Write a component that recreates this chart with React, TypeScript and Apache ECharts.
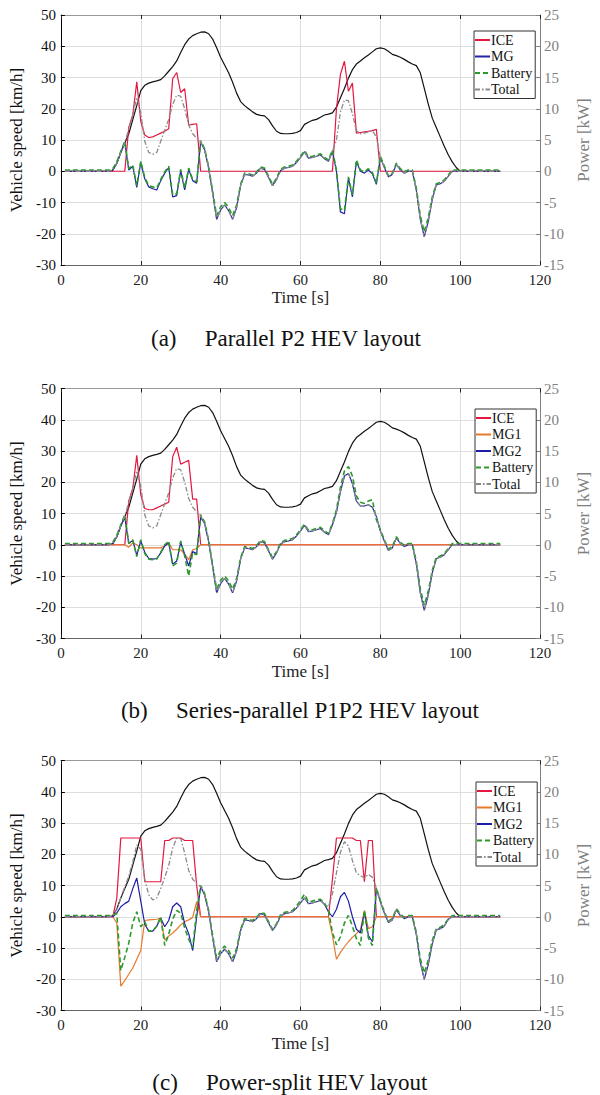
import React, { useEffect, useRef } from "react";
import * as echarts from "echarts";

const FONT = "'Liberation Serif', 'Times New Roman', serif";

// time in seconds, 1..110
const TIME_START = 1;
const TIME_COUNT = 110;

// Vehicle speed [km/h]
const speed = [
  0, 0, 0, 0, 0, 0, 0, 0, 0, 0,
  0, 0, 0.3, 2.5, 6, 9, 12, 16.5, 21, 25.8,
  27.5, 28.2, 28.6, 28.9, 29.3, 30.5, 32, 33.5, 35.3, 38,
  40.5, 42.3, 43.4, 44, 44.5, 44.6, 44, 42.3, 39.5, 36.5,
  34, 31.5, 28.5, 25, 22.3, 21, 20, 19, 18.2, 17.9,
  17.7, 16.5, 14.5, 12.8, 12.1, 12, 12, 12.1, 12.4, 13,
  15, 15.7, 16.3, 16.6, 17.3, 18, 18.3, 18.7, 20.5, 23.5,
  26.5, 29.8, 32.5, 34.3, 35.3, 36.3, 37.2, 38.2, 39.2, 39.5,
  39.2, 38.4, 37.4, 37, 36.5, 35.8, 35, 34.3, 33.8, 31.5,
  26.5, 21.5, 17, 14, 11, 8, 5.3, 3, 1.2, 0,
  0, 0, 0, 0, 0, 0, 0, 0, 0, 0,
];

// ---------- (a) Parallel P2 [kW] ----------
const iceA = [
  0, 0, 0, 0, 0, 0, 0, 0, 0, 0,
  0, 0, 0, 0, 0, 0, 7, 9, 14.3, 8,
  5.8, 5.4, 5.5, 5.8, 6.1, 6.4, 6.8, 14.8, 15.8, 12.6,
  13.2, 7.4, 7.5, 7.6, 0, 0, 0, 0, 0, 0,
  0, 0, 0, 0, 0, 0, 0, 0, 0, 0,
  0, 0, 0, 0, 0, 0, 0, 0, 0, 0,
  0, 0, 0, 0, 0, 0, 0, 0, 10, 15.5,
  17.6, 12.8, 14.1, 6.1, 6.2, 6.3, 6.4, 6.5, 6.7, 0,
  0, 0, 0, 0, 0, 0, 0, 0, 0, 0,
  0, 0, 0, 0, 0, 0, 0, 0, 0, 0,
  0, 0, 0, 0, 0, 0, 0, 0, 0, 0,
];
const mgA = [
  0, 0, 0, 0, 0, 0, 0, 0, 0, 0,
  0, 0, 0.2, 1.3, 3, 4.6, 0.2, 0.8, -2.6, 1.4,
  -1.2, -2.5, -2.8, -3, -1.5, -0.3, 0.6, -4.1, -3.9, 0.1,
  -3, 0.3, -1.5, -1.9, 4.7, 3.4, 0.5, -3.5, -7.7, -6.2,
  -5.4, -6.3, -7.7, -5.8, -2.3, -0.5, -0.6, -0.8, -0.3, 0.5,
  0.3, -1, -2.3, -1.3, 0.1, 0.5, 0.6, 0.8, 1.4, 2.2,
  3.1, 2.1, 2.2, 2.4, 2.6, 2, 1.6, 3.2, 0, -6.5,
  -6.8, -1.1, -4.1, 1.6, 0, -0.3, 0.2, -0.4, -2.1, 2.2,
  0.6, -0.9, -0.5, 1.1, 0.2, -0.3, 0, 0, -3, -7.7,
  -10.5, -8, -4.5, -2.2, -2, -1.6, -0.8, 0, 0, 0,
  0, 0, 0, 0, 0, 0, 0, 0, 0, 0,
];
const batA = [
  0.2, 0.2, 0.2, 0.2, 0.2, 0.2, 0.2, 0.2, 0.2, 0.2,
  0.2, 0.2, 0.4, 1.5, 3.2, 4.8, 0.4, 1, -2.3, 1.6,
  -1, -2.3, -2.5, -2.7, -1.3, -0.1, 0.8, -3.8, -3.6, 0.3,
  -2.7, 0.5, -1.3, -1.7, 4.9, 3.6, 0.7, -3.2, -7.1, -5.7,
  -5, -5.8, -7.1, -5.4, -2.1, -0.3, -0.4, -0.6, -0.1, 0.7,
  0.5, -0.8, -2.1, -1.1, 0.3, 0.7, 0.8, 1, 1.6, 2.4,
  3.3, 2.3, 2.4, 2.6, 2.8, 2.2, 1.8, 3.4, 0.2, -6,
  -6.3, -0.9, -3.8, 1.8, 0.2, -0.1, 0.4, -0.2, -1.9, 2.4,
  0.8, -0.7, -0.3, 1.3, 0.4, -0.1, 0.2, 0.2, -2.7, -7.1,
  -9.7, -7.4, -4.1, -2, -1.8, -1.4, -0.6, 0.2, 0.2, 0.2,
  0.2, 0.2, 0.2, 0.2, 0.2, 0.2, 0.2, 0.2, 0.2, 0.2,
];
const totA = [
  0, 0, 0, 0, 0, 0, 0, 0, 0, 0,
  0, 0, 0.2, 1.3, 3, 4.6, 6.8, 9, 11.8, 9.3,
  4.8, 3, 2.7, 3, 4.8, 6.6, 8.3, 10.7, 12.2, 12,
  10, 7.4, 6, 5.3, 4.7, 3.4, 0.5, -3.5, -7.7, -6.2,
  -5.4, -6.3, -7.7, -5.8, -2.3, -0.5, -0.6, -0.8, -0.3, 0.5,
  0.3, -1, -2.3, -1.3, 0.1, 0.5, 0.6, 0.8, 1.4, 2.2,
  3.1, 2.1, 2.2, 2.4, 2.6, 2, 1.6, 3.2, 5, 9.5,
  11.4, 11.3, 9.2, 6.5, 6, 6.1, 6.3, 6.5, 5.5, 2.2,
  0.6, -0.9, -0.5, 1.1, 0.2, -0.3, 0, 0, -3, -7.7,
  -10.5, -8, -4.5, -2.2, -2, -1.6, -0.8, 0, 0, 0,
  0, 0, 0, 0, 0, 0, 0, 0, 0, 0,
];

// ---------- (b) Series-parallel P1P2 [kW] ----------
const iceB = [
  0, 0, 0, 0, 0, 0, 0, 0, 0, 0,
  0, 0, 0, 0, 0, 0, 7, 9, 14.3, 8,
  5.8, 5.6, 5.6, 5.9, 6.2, 6.5, 6.8, 14.1, 15.6, 12.9,
  13.2, 13.5, 7.3, 7.3, 0, 0, 0, 0, 0, 0,
  0, 0, 0, 0, 0, 0, 0, 0, 0, 0,
  0, 0, 0, 0, 0, 0, 0, 0, 0, 0,
  0, 0, 0, 0, 0, 0, 0, 0, 0, 0,
  0, 0, 0, 0, 0, 0, 0, 0, 0, 0,
  0, 0, 0, 0, 0, 0, 0, 0, 0, 0,
  0, 0, 0, 0, 0, 0, 0, 0, 0, 0,
  0, 0, 0, 0, 0, 0, 0, 0, 0, 0,
];
const mg1B = [
  0, 0, 0, 0, 0, 0, 0, 0, 0, 0,
  0, 0, 0, 0, 0, 0, -0.4, 0.3, 0, -0.5,
  -0.5, -0.5, -0.5, -0.5, -0.5, -0.2, 0.3, -0.8, -0.8, -0.8,
  -1.5, -2.4, -0.8, -0.6, 0, 0, 0, 0, 0, 0,
  0, 0, 0, 0, 0, 0, 0, 0, 0, 0,
  0, 0, 0, 0, 0, 0, 0, 0, 0, 0,
  0, 0, 0, 0, 0, 0, 0, 0, 0, 0,
  0, 0, 0, 0, 0, 0, 0, 0, 0, 0,
  0, 0, 0, 0, 0, 0, 0, 0, 0, 0,
  0, 0, 0, 0, 0, 0, 0, 0, 0, 0,
  0, 0, 0, 0, 0, 0, 0, 0, 0, 0,
];
const mg2B = [
  0, 0, 0, 0, 0, 0, 0, 0, 0, 0,
  0, 0, 0.2, 1.3, 3, 4.4, 0.2, 0.7, -1.7, 0.6,
  -1.2, -2.2, -2.3, -2.2, -1.3, -0.2, 0.3, -3.1, -2.6, 0.4,
  -1.5, -3.4, -1.1, -1.4, 4.4, 3.4, 0.5, -3.5, -7.7, -6.2,
  -5.4, -6.3, -7.7, -5.8, -2.3, -0.5, -0.6, -0.8, -0.3, 0.5,
  0.3, -1, -2.3, -1.3, 0.1, 0.5, 0.6, 0.8, 1.4, 2.2,
  3.1, 2.1, 2.2, 2.4, 2.6, 2, 1.6, 3.2, 5.2, 8.5,
  11, 11.4, 9.8, 7, 6.2, 6.2, 6.4, 6, 4.5, 2.2,
  0.6, -0.9, -0.5, 1.1, 0.2, -0.3, 0, 0, -3, -7.7,
  -10.5, -8, -4.5, -2.2, -2, -1.6, -0.8, 0, 0, 0,
  0, 0, 0, 0, 0, 0, 0, 0, 0, 0,
];
const batB = [
  0.2, 0.2, 0.2, 0.2, 0.2, 0.2, 0.2, 0.2, 0.2, 0.2,
  0.2, 0.2, 0.4, 1.5, 3.2, 4.8, 0.2, 0.8, -1.9, 0.8,
  -1.4, -2.3, -2.4, -2.3, -1.2, 0, 0.6, -3.4, -2.9, 0.6,
  -1.8, -5, -1.3, -1.6, 4.8, 3.6, 0.7, -3.2, -7.1, -5.7,
  -5, -5.8, -7.1, -5.4, -2.1, -0.3, -0.4, -0.6, -0.1, 0.7,
  0.5, -0.8, -2.1, -1.1, 0.3, 0.7, 0.8, 1, 1.6, 2.4,
  3.3, 2.3, 2.4, 2.6, 2.8, 2.2, 1.8, 3.4, 5.6, 9.2,
  11.8, 12.5, 11, 7.8, 6.8, 6.6, 7, 7.2, 4, 2.4,
  0.8, -0.7, -0.3, 1.3, 0.4, -0.1, 0.2, 0.2, -2.7, -7.1,
  -9.7, -7.4, -4.1, -2, -1.8, -1.4, -0.6, 0.2, 0.2, 0.2,
  0.2, 0.2, 0.2, 0.2, 0.2, 0.2, 0.2, 0.2, 0.2, 0.2,
];
const totB = [
  0, 0, 0, 0, 0, 0, 0, 0, 0, 0,
  0, 0, 0.2, 1.3, 3, 4.6, 6.8, 9, 11.8, 9.3,
  4.8, 3, 2.7, 3, 4.8, 6.6, 8.3, 10.7, 12.2, 12,
  10, 7.4, 6, 5.3, 4.7, 3.4, 0.5, -3.5, -7.7, -6.2,
  -5.4, -6.3, -7.7, -5.8, -2.3, -0.5, -0.6, -0.8, -0.3, 0.5,
  0.3, -1, -2.3, -1.3, 0.1, 0.5, 0.6, 0.8, 1.4, 2.2,
  3.1, 2.1, 2.2, 2.4, 2.6, 2, 1.6, 3.2, 5.2, 8.5,
  11, 11.4, 9.8, 7, 6.2, 6.2, 6.4, 6, 4.5, 2.2,
  0.6, -0.9, -0.5, 1.1, 0.2, -0.3, 0, 0, -3, -7.7,
  -10.5, -8, -4.5, -2.2, -2, -1.6, -0.8, 0, 0, 0,
  0, 0, 0, 0, 0, 0, 0, 0, 0, 0,
];

// ---------- (c) Power-split [kW] ----------
const iceC = [
  0, 0, 0, 0, 0, 0, 0, 0, 0, 0,
  0, 0, 0, 3, 12.6, 12.6, 12.6, 12.6, 12.6, 12.6,
  5.6, 5.6, 5.6, 5.6, 5.6, 12.2, 12.2, 12.6, 12.6, 12.6,
  12.2, 12.2, 12.2, 5, 0, 0, 0, 0, 0, 0,
  0, 0, 0, 0, 0, 0, 0, 0, 0, 0,
  0, 0, 0, 0, 0, 0, 0, 0, 0, 0,
  0, 0, 0, 0, 0, 0, 0, 6, 12.6, 12.6,
  12.6, 12.6, 12.6, 12.2, 12.2, 5.6, 12.2, 12.2, 0, 0,
  0, 0, 0, 0, 0, 0, 0, 0, 0, 0,
  0, 0, 0, 0, 0, 0, 0, 0, 0, 0,
  0, 0, 0, 0, 0, 0, 0, 0, 0, 0,
];
const mg1C = [
  0, 0, 0, 0, 0, 0, 0, 0, 0, 0,
  0, 0, 0, -1, -11.1, -10.2, -9.2, -8.2, -6.8, -5.4,
  -0.6, -0.5, -0.45, -0.4, -0.2, -3.7, -3.1, -2.6, -2, -1.3,
  -0.8, -0.5, -0.1, 2.4, 0, 0, 0, 0, 0, 0,
  0, 0, 0, 0, 0, 0, 0, 0, 0, 0,
  0, 0, 0, 0, 0, 0, 0, 0, 0, 0,
  0, 0, 0, 0, 0, 0, 0, -3, -6.8, -5.7,
  -4.8, -4, -3.3, -2.7, -2.1, 1, -1.9, -1.6, 0, 0,
  0, 0, 0, 0, 0, 0, 0, 0, 0, 0,
  0, 0, 0, 0, 0, 0, 0, 0, 0, 0,
  0, 0, 0, 0, 0, 0, 0, 0, 0, 0,
];
const mg2C = [
  0, 0, 0, 0, 0, 0, 0, 0, 0, 0,
  0, 0, 0, 0.6, 1.6, 2.1, 2.5, 4.5, 6.2, 2.5,
  -1.2, -2.3, -2.3, -1.5, -0.2, -1.6, -0.6, 1.6, 2.2, 1.6,
  -1.1, -2.7, -5.4, 0, 4.8, 3.5, 0.8, -3.3, -7.2, -5.9,
  -5.2, -5.9, -7.2, -5.5, -2.2, -0.5, -0.6, -0.8, -0.3, 0.5,
  0.3, -1, -2.2, -1.3, 0.1, 0.5, 0.6, 0.8, 1.4, 2.2,
  3, 2.1, 2.2, 2.4, 2.6, 2, 0.8, 0, 1.2, 3.2,
  3.9, 2.5, 0, -2, -2.6, 0.7, -3, -4, 4.5, 2.4,
  0.6, -0.9, -0.5, 1.1, 0.2, -0.3, 0, 0, -2.8, -7.3,
  -10, -7.6, -4.3, -2.1, -1.9, -1.5, -0.4, 0, 0, 0,
  0, 0, 0, 0, 0, 0, 0, 0, 0, 0,
];
const batC = [
  0.2, 0.2, 0.2, 0.2, 0.2, 0.2, 0.2, 0.2, 0.2, 0.2,
  0.2, 0.2, 0.3, 0.5, -8.6, -6.5, -4.2, -1, 0.8, -1.6,
  -0.8, -2.3, -2.3, -1.5, 0, -4.6, -2.8, -0.4, 1, 0.6,
  -1.8, -3.6, -5, 1, 5, 3.7, 1, -3, -6.6, -5.4,
  -4.7, -5.4, -6.6, -5.1, -2, -0.3, -0.4, -0.6, -0.1, 0.7,
  0.5, -0.8, -2, -1.1, 0.3, 0.7, 0.8, 1, 1.7, 2.6,
  3.6, 2.4, 2.5, 2.7, 2.8, 2.2, 1, -2.5, -4.5, -3.2,
  -1, 0.2, -1.5, -3.5, -4.6, 1, -3.4, -4.6, 4.6, 2.6,
  0.8, -0.7, -0.3, 1.3, 0.4, -0.1, 0.2, 0.2, -2.5, -6.7,
  -9, -6.9, -3.8, -1.9, -1.7, -1.2, -0.4, 0.2, 0.2, 0.2,
  0.2, 0.2, 0.2, 0.2, 0.2, 0.2, 0.2, 0.2, 0.2, 0.2,
];
const totC = [
  0, 0, 0, 0, 0, 0, 0, 0, 0, 0,
  0, 0, 0.2, 1.2, 3, 4.8, 6.5, 8.8, 11.5, 10.8,
  6, 3.5, 2.7, 3, 4.5, 6.3, 8.2, 11, 12.6, 12.5,
  10.2, 7.4, 6, 5.3, 4.8, 3.5, 0.8, -3.3, -7.2, -5.9,
  -5.2, -5.9, -7.2, -5.5, -2.2, -0.5, -0.6, -0.8, -0.3, 0.5,
  0.3, -1, -2.2, -1.3, 0.1, 0.5, 0.6, 0.8, 1.4, 2.2,
  3, 2.1, 2.2, 2.4, 2.6, 2, 1.6, 3.7, 7, 10.3,
  12, 11.3, 9, 7, 6.6, 6.2, 6.8, 6.3, 4.6, 2.4,
  0.6, -0.9, -0.5, 1.1, 0.2, -0.3, 0, 0, -2.8, -7.3,
  -10, -7.6, -4.3, -2.1, -1.9, -1.5, -0.4, 0, 0, 0,
  0, 0, 0, 0, 0, 0, 0, 0, 0, 0,
];

const xTicks = { min: 0, max: 120, interval: 20 };
const speedTicks = { min: -30, max: 50, interval: 10 };
const powerTicks = { min: -15, max: 25, interval: 5 };

const captions = [
  { label: "(a)", title: "Parallel P2 HEV layout" },
  { label: "(b)", title: "Series-parallel P1P2 HEV layout" },
  { label: "(c)", title: "Power-split HEV layout" },
];

const legendNames = [
  ["ICE", "MG", "Battery", "Total"],
  ["ICE", "MG1", "MG2", "Battery", "Total"],
  ["ICE", "MG1", "MG2", "Battery", "Total"],
];

const COLORS: Record<string, string> = {
  ICE: "#e3173f",
  MG: "#2323a6",
  MG1: "#e8792b",
  MG2: "#1c1ca8",
  Battery: "#2b9a2b",
  Total: "#8a8a8a",
  Speed: "#111111",
};

const PANEL_TOPS = [15, 388.5, 760.5];
const CAPTION_POS = [
  { x: 286, y: 338 },
  { x: 300, y: 710 },
  { x: 290, y: 1082 },
];
const LEGEND_POS = [
  { left: 474, top: 31 },
  { left: 475, top: 409 },
  { left: 476, top: 782 },
];

const times = Array.from({ length: TIME_COUNT }, (_, i) => TIME_START + i);
const pts = (arr: number[]) => arr.map((v, i) => [times[i], v]);

function lineSeries(name: string, data: number[], panel: number, axis: "speed" | "power") {
  const isBat = name === "Battery";
  const isTot = name === "Total";
  return {
    type: "line",
    name,
    xAxisIndex: panel * 2,
    yAxisIndex: panel * 2 + (axis === "speed" ? 0 : 1),
    data: pts(data),
    symbol: "none",
    showSymbol: false,
    silent: true,
    color: COLORS[name] || COLORS.Speed,
    lineStyle: {
      color: COLORS[name] || COLORS.Speed,
      width: isBat ? 1.6 : isTot ? 1.3 : 1.2,
      type: isBat ? [5, 3] : isTot ? [5, 2, 1.5, 2] : "solid",
    },
  };
}

export default function App() {
  const ref = useRef<HTMLDivElement>(null);
  useEffect(() => {
    if (!ref.current) return;
    const chart = echarts.init(ref.current, undefined, { renderer: "svg" });

    const grid = PANEL_TOPS.map((top) => ({ left: 57, top, width: 487, height: 250 }));

    const xAxis: any[] = [];
    const yAxis: any[] = [];
    PANEL_TOPS.forEach((_, i) => {
      xAxis.push({
        type: "value",
        gridIndex: i,
        ...xTicks,
        position: "bottom",
        name: "Time [s]",
        nameLocation: "middle",
        nameGap: 24,
        nameTextStyle: { fontFamily: FONT, fontSize: 17, color: "#222" },
        axisLine: { show: true, onZero: false, lineStyle: { color: "#666", width: 1 } },
        axisTick: { show: true, inside: true, length: 4, lineStyle: { color: "#222" } },
        axisLabel: { fontFamily: FONT, fontSize: 15, color: "#222", margin: 7 },
        splitLine: { show: true, lineStyle: { color: "#dedede", width: 1 } },
      });
      xAxis.push({
        type: "value",
        gridIndex: i,
        ...xTicks,
        position: "top",
        axisLine: { show: true, onZero: false, lineStyle: { color: "#999", width: 1 } },
        axisTick: { show: true, inside: true, length: 4, lineStyle: { color: "#222" } },
        axisLabel: { show: false },
        splitLine: { show: false },
      });
      yAxis.push({
        type: "value",
        gridIndex: i,
        ...speedTicks,
        position: "left",
        name: "Vehicle speed [km/h]",
        nameLocation: "middle",
        nameRotate: 90,
        nameGap: 26,
        nameTextStyle: { fontFamily: FONT, fontSize: 17, color: "#111" },
        axisLine: { show: true, onZero: false, lineStyle: { color: "#000", width: 1 } },
        axisTick: { show: true, inside: true, length: 4, lineStyle: { color: "#000" } },
        axisLabel: { fontFamily: FONT, fontSize: 15, color: "#111", margin: 5 },
        splitLine: { show: true, lineStyle: { color: "#dedede", width: 1 } },
      });
      yAxis.push({
        type: "value",
        gridIndex: i,
        ...powerTicks,
        position: "right",
        name: "Power [kW]",
        nameLocation: "middle",
        nameRotate: 90,
        nameGap: 30,
        nameTextStyle: { fontFamily: FONT, fontSize: 17, color: "#808080" },
        axisLine: { show: true, onZero: false, lineStyle: { color: "#808080", width: 1 } },
        axisTick: { show: true, inside: true, length: 4, lineStyle: { color: "#808080" } },
        axisLabel: { fontFamily: FONT, fontSize: 15, color: "#808080", margin: 4 },
        splitLine: { show: false },
      });
    });

    const series: any[] = [
      lineSeries("Speed", speed, 0, "speed"),
      lineSeries("ICE", iceA, 0, "power"),
      lineSeries("MG", mgA, 0, "power"),
      lineSeries("Battery", batA, 0, "power"),
      lineSeries("Total", totA, 0, "power"),

      lineSeries("Speed", speed, 1, "speed"),
      lineSeries("ICE", iceB, 1, "power"),
      lineSeries("MG1", mg1B, 1, "power"),
      lineSeries("MG2", mg2B, 1, "power"),
      lineSeries("Battery", batB, 1, "power"),
      lineSeries("Total", totB, 1, "power"),

      lineSeries("Speed", speed, 2, "speed"),
      lineSeries("ICE", iceC, 2, "power"),
      lineSeries("MG1", mg1C, 2, "power"),
      lineSeries("MG2", mg2C, 2, "power"),
      lineSeries("Battery", batC, 2, "power"),
      lineSeries("Total", totC, 2, "power"),
    ];

    const legend = legendNames.map((names, i) => ({
      orient: "vertical",
      left: LEGEND_POS[i].left,
      top: LEGEND_POS[i].top,
      data: names,
      selectedMode: false,
      itemWidth: 15,
      itemHeight: 8,
      itemGap: 2.5,
      padding: [2, 3, 2, 0],
      borderColor: "#333",
      borderWidth: 1,
      backgroundColor: "#fff",
      itemStyle: { opacity: 0 },
      textStyle: { fontFamily: FONT, fontSize: 14, color: "#111", padding: [0, 0, 0, -4] },
    }));

    const graphic = captions.map((c, i) => ({
      type: "text",
      x: CAPTION_POS[i].x,
      y: CAPTION_POS[i].y,
      silent: true,
      style: {
        text: `{l|${c.label}}{t|${c.title}}`,
        align: "center",
        verticalAlign: "middle",
        fontFamily: FONT,
        fontSize: 23,
        fill: "#111",
        rich: {
          l: { fontFamily: FONT, fontSize: 23, fill: "#111", padding: [0, 28, 0, 0] },
          t: { fontFamily: FONT, fontSize: 23, fill: "#111" },
        },
      },
    }));

    chart.setOption({
      animation: false,
      backgroundColor: "#fff",
      grid,
      xAxis,
      yAxis,
      legend,
      series,
      graphic,
    });
    return () => chart.dispose();
  }, []);
  return (
    <div
      ref={ref}
      style={{ position: "absolute", left: 0, top: 0, width: 600, height: 1095, background: "#fff" }}
    />
  );
}
